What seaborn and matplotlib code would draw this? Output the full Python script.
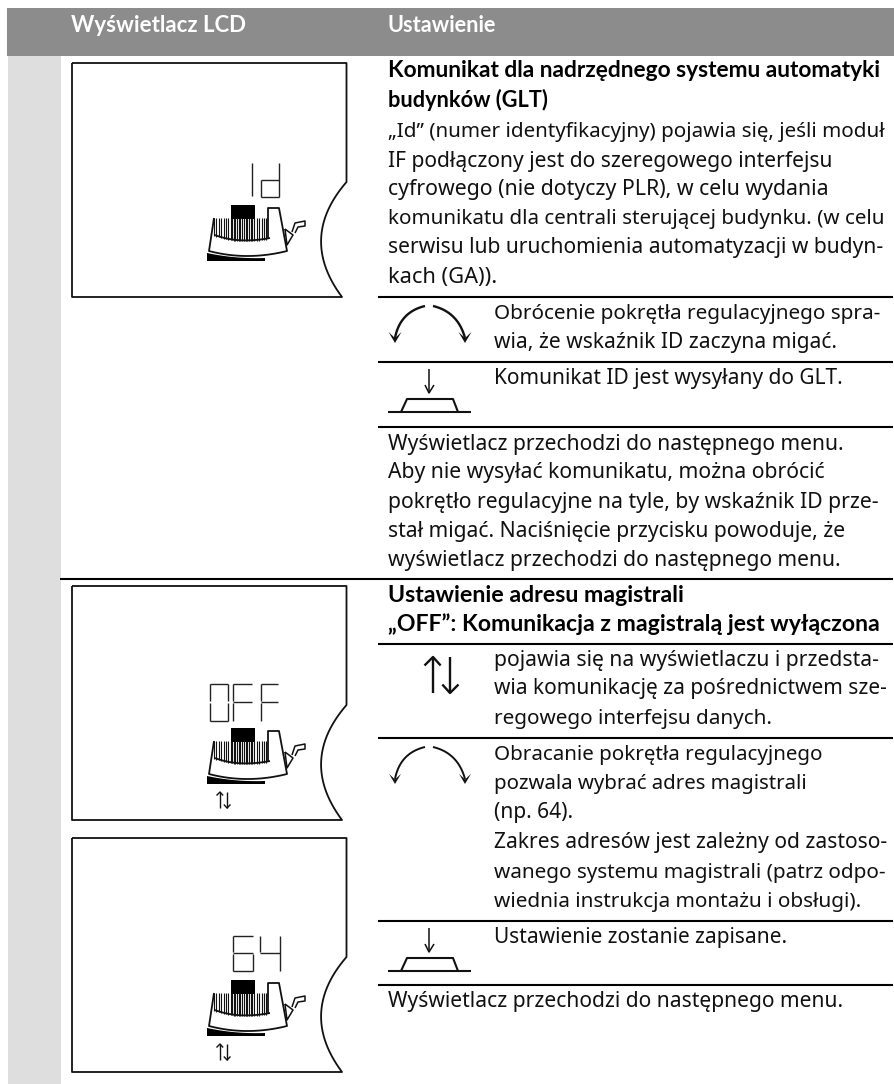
import numpy as np
import matplotlib
matplotlib.use('Agg')
import matplotlib.pyplot as plt
from matplotlib.patches import Rectangle, Polygon
import seaborn as sns

# Page text, one entry per printed line: (x, baseline y, string, right end)
header_labels = [(71, 32, 'Wyświetlacz LCD', 246), (388, 32, 'Ustawienie', 497)]
bold_lines = [
    (388, 77, 'Komunikat dla nadrzędnego systemu automatyki', 885),
    (388, 107, 'budynków (GLT)', 547),
    (388, 602, 'Ustawienie adresu magistrali', 684),
    (388, 631, '„OFF”: Komunikacja z magistralą jest wyłączona', 880),
]
body_lines = [
    (388, 137, '„Id” (numer identyfikacyjny) pojawia się, jeśli moduł', 886),
    (388, 167, 'IF podłączony jest do szeregowego interfejsu', 833),
    (388, 195, 'cyfrowego (nie dotyczy PLR), w celu wydania', 830),
    (388, 224, 'komunikatu dla centrali sterującej budynku. (w celu', 886),
    (388, 253, 'serwisu lub uruchomienia automatyzacji w budyn-', 885),
    (388, 283, 'kach (GA)).', 497),
    (494, 319, 'Obrócenie pokrętła regulacyjnego spra-', 882),
    (494, 348, 'wia, że wskaźnik ID zaczyna migać.', 837),
    (494, 384, 'Komunikat ID jest wysyłany do GLT.', 843),
    (388, 450, 'Wyświetlacz przechodzi do następnego menu.', 845),
    (388, 478, 'Aby nie wysyłać komunikatu, można obrócić', 826),
    (388, 508, 'pokrętło regulacyjne na tyle, by wskaźnik ID prze-', 880),
    (388, 537, 'stał migać. Naciśnięcie przycisku powoduje, że', 847),
    (388, 566, 'wyświetlacz przechodzi do następnego menu.', 842),
    (494, 666, 'pojawia się na wyświetlaczu i przedsta-', 880),
    (494, 694, 'wia komunikację za pośrednictwem sze-', 887),
    (494, 724, 'regowego interfejsu danych.', 773),
    (494, 760, 'Obracanie pokrętła regulacyjnego', 824),
    (494, 789, 'pozwala wybrać adres magistrali', 808),
    (494, 818, '(np. 64).', 573),
    (494, 848, 'Zakres adresów jest zależny od zastoso-', 887),
    (494, 878, 'wanego systemu magistrali (patrz odpo-', 887),
    (494, 907, 'wiednia instrukcja montażu i obsługi).', 863),
    (494, 943, 'Ustawienie zostanie zapisane.', 787),
    (388, 1007, 'Wyświetlacz przechodzi do następnego menu.', 843),
]

# Table rules
rule_ys = [296.7, 361.7, 426.7, 644, 737.7, 920.7, 985]
full_rule_y = 579

# LCD panels, as vertical offset from the first one
panel_offsets = [0, 523, 775]

TEXT_PX = 21
sns.set_theme(style='white')
plt.rcParams['font.family'] = ['Noto Sans', 'DejaVu Sans']

fig = plt.figure(figsize=(8.95, 10.84), dpi=100)
ax = fig.add_axes([0, 0, 1, 1])
ax.set_xlim(0, 895)
ax.set_ylim(1084, 0)
ax.axis('off')


def stroke(xs, ys, lw=1.2, color='#111111'):
    sns.lineplot(x=xs, y=ys, sort=False, estimator=None, ax=ax, color=color,
                 linewidth=lw, legend=False, solid_capstyle='butt')


def arc(p0, p1, p2, n=30):
    # quadratic curve through control point p1
    t = np.linspace(0, 1, n)
    x = (1 - t)**2 * p0[0] + 2 * t * (1 - t) * p1[0] + t**2 * p2[0]
    y = (1 - t)**2 * p0[1] + 2 * t * (1 - t) * p1[1] + t**2 * p2[1]
    return x, y


def seven_seg(segs, dy):
    for x0, y0, x1, y1 in segs:
        stroke([x0, x1], [y0 + dy, y1 + dy], lw=1.0, color='#222222')


def box_digit(x0, x1, top, mid, bot):
    return [(x0, top, x1, top), (x0, top, x0, mid - 1), (x0, mid + 1, x0, bot),
            (x0, bot, x1, bot), (x1, top, x1, mid - 1), (x1, mid + 1, x1, bot)]


def draw_panel(dy):
    # frame with the round cut-out on the right
    ax_x, ax_y = arc((346.5, 182), (298, 238), (342, 297))
    xs = [72, 346.5] + list(ax_x) + [72, 72]
    ys = [63, 63] + list(ax_y) + [297, 63]
    stroke(xs, np.array(ys) + dy, lw=1.3)

    # knob
    ax.add_patch(Rectangle((231, 205 + dy), 24, 14, color='black', lw=0))
    cx, cy = arc((215, 235), (238, 244), (270, 238))
    teeth = np.r_[np.arange(214, 232, 2.4), np.arange(232, 252, 1.7), np.arange(252, 268, 2.4)]
    ax.vlines(teeth, 218 + dy, np.interp(teeth, cx, cy) + dy + 1, color='#111111', lw=0.8)
    stroke(cx, cy + dy, lw=1.3)
    bx, by = arc((209, 251), (247, 261), (287, 251))
    stroke([214] + [209] + list(bx) + [279, 268, 268],
           np.array([218] + [251] + list(by) + [208, 208, 238]) + dy, lw=1.3)
    wx, wy = arc((265, 258), (235, 259), (207, 253))
    ax.add_patch(Polygon(np.column_stack([[207, 265] + list(wx), [261 + dy, 261 + dy] + list(wy + dy)]),
                         color='black', lw=0))
    stroke([285, 287, 293, 285], np.array([229, 245, 235, 229]) + dy, lw=1.1)
    stroke([292, 295, 305, 305, 298, 295], np.array([232, 223, 221, 226, 227, 233]) + dy, lw=1.1)


def barb(tip, dy, size):
    x, y = tip
    pts = [(x, y + dy), (x - size, y - size * 1.7 + dy), (x, y - size * 0.75 + dy), (x + size, y - size * 1.7 + dy)]
    ax.add_patch(Polygon(pts, color='#111111', lw=0))


def rotate_icon(dy, lw, size):
    lx, ly = arc((425, 306), (400, 312), (395, 338))
    stroke(lx, ly + dy, lw=lw)
    barb((395, 343), dy, size)
    rx, ry = arc((433, 306), (458, 312), (465, 338))
    stroke(rx, ry + dy, lw=lw)
    barb((465, 343), dy, size)


def press_icon(dy):
    stroke([429, 429], np.array([369, 393]) + dy, lw=1.1)
    stroke([425, 429, 434], np.array([385, 393, 385]) + dy, lw=1.1)
    stroke([388, 471], np.array([412, 412]) + dy, lw=1.5)
    stroke([401, 407, 453, 458], np.array([412, 399, 399, 412]) + dy, lw=1.5)


def updown_icon(xu, xd, top, bot, head, lw):
    stroke([xu, xu], [top, bot], lw=lw)
    stroke([xu - head, xu, xu + head * 0.9], [top + head, top, top + head], lw=lw)
    stroke([xd, xd], [top, bot], lw=lw)
    stroke([xd - head * 0.9, xd, xd + head], [bot - head, bot, bot - head], lw=lw)


def put_line(x, y, s, right, **kw):
    # one printed line, sized so that it ends where the original line ends
    t = ax.text(x, y, s, fontsize=TEXT_PX * 72 / 100, va='baseline', **kw)
    w = t.get_window_extent(fig.canvas.get_renderer()).width
    t.set_fontsize(t.get_fontsize() * (right - x) / w)


# page background blocks
ax.add_patch(Rectangle((7, 8), 888, 48, color='#8c8c8c', lw=0))
ax.add_patch(Rectangle((8, 56), 53, 1028, color='#dedede', lw=0))

for y in rule_ys:
    stroke([378, 893], [y, y], lw=1.5, color='black')
stroke([60, 893], [full_rule_y, full_rule_y], lw=1.5, color='black')

for dy in panel_offsets:
    draw_panel(dy)

# segment read-outs
seven_seg([(252, 163, 252, 196), (279, 163, 279, 197), (261, 180, 279, 180),
           (261, 180, 261, 197), (261, 197, 279, 197)], 0)
off_segs = box_digit(210, 228, 161, 179, 198)
off_segs += [(233, 161, 233, 178), (233, 180, 233, 198), (233, 161, 252, 161), (233, 179, 252, 179)]
off_segs += [(261, 161, 261, 178), (261, 180, 261, 198), (261, 161, 278, 161), (261, 179, 278, 179)]
seven_seg(off_segs, 523)
six_segs = [(233, 161, 253, 161), (233, 161, 233, 177), (233, 179, 233, 196), (233, 178, 253, 178),
            (253, 179, 253, 196), (233, 196, 253, 196)]
four_segs = [(260, 161, 260, 177), (260, 178, 280, 178), (280, 161, 280, 196)]
seven_seg(six_segs + four_segs, 775)

updown_icon(220, 227, 792, 808, 3.5, 1.0)
updown_icon(220, 227, 1044, 1060, 3.5, 1.0)
updown_icon(433, 450, 657, 693, 8.5, 1.7)

rotate_icon(0, 1.7, 6.5)
rotate_icon(441, 1.4, 6)
press_icon(0)
press_icon(559)

for x, y, s, right in header_labels:
    put_line(x, y, s, right, color='white', family=['Lato', 'Noto Sans'], fontweight='bold')
for x, y, s, right in bold_lines:
    put_line(x, y, s, right, color='black', family=['Lato', 'Noto Sans'], fontweight='bold')
for x, y, s, right in body_lines:
    put_line(x, y, s, right, color='#111111')

fig.savefig('out.png', dpi=100)
